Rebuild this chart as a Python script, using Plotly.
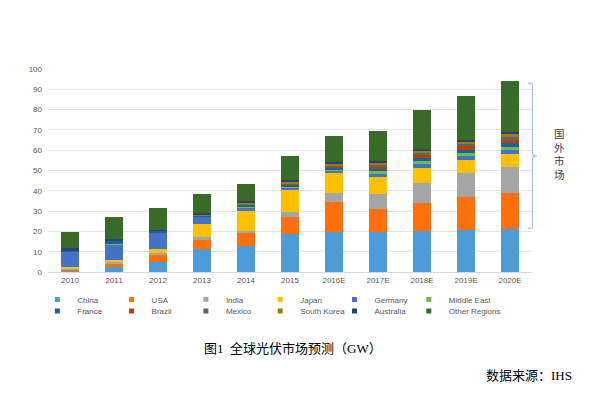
import plotly.graph_objects as go

years = ["2010", "2011", "2012", "2013", "2014", "2015", "2016E", "2017E", "2018E", "2019E", "2020E"]

china        = [0.5, 2.5, 4.9, 11.1, 12.9, 18.8, 19.5, 19.8, 20.1, 20.9, 21.1]
usa          = [0.9, 1.9, 3.5, 4.9, 6.2, 8.1, 15.1, 11.2, 13.7, 16.2, 17.6]
india        = [0.1, 0.3, 1.0, 1.2, 1.0, 2.7, 4.4, 7.4, 9.9, 11.5, 13.2]
japan        = [1.0, 1.3, 2.0, 6.6, 9.9, 10.7, 9.6, 8.5, 7.4, 6.5, 6.1]
germany      = [7.4, 7.5, 7.9, 3.3, 1.9, 1.4, 1.0, 1.5, 2.1, 2.0, 2.0]
middle_east  = [0.0, 0.1, 0.2, 0.3, 0.4, 0.6, 1.0, 1.5, 1.5, 1.5, 1.6]
france       = [0.7, 1.7, 0.8, 0.6, 0.9, 0.9, 0.9, 1.0, 1.5, 1.7, 1.8]
brazil       = [0.0, 0.0, 0.0, 0.0, 0.1, 0.2, 0.6, 1.0, 1.3, 1.6, 1.8]
mexico       = [0.0, 0.0, 0.0, 0.0, 0.1, 0.2, 0.6, 1.0, 1.2, 1.2, 1.4]
south_korea  = [0.2, 0.1, 0.1, 0.4, 0.9, 0.9, 0.8, 0.9, 1.0, 1.0, 1.3]
australia    = [0.8, 0.8, 0.5, 0.8, 0.9, 0.8, 0.7, 0.9, 0.8, 0.9, 1.0]
other        = [8.2, 11.0, 10.4, 9.4, 8.3, 11.9, 12.8, 14.8, 19.5, 21.8, 25.0]

series_names = ["China", "USA", "India", "Japan", "Germany", "Middle East",
                "France", "Brazil", "Mexico", "South Korea", "Australia", "Other Regions"]
series_values = [china, usa, india, japan, germany, middle_east,
                 france, brazil, mexico, south_korea, australia, other]
colors = ["#4E9BDA", "#FF700D", "#A5A5A5", "#FFC000", "#4472C4", "#6ABD45",
          "#1F5F9E", "#B0420E", "#636363", "#9E7A00", "#264478", "#386B28"]

y_ticks = list(range(0, 101, 10))

fig = go.Figure()
for name, vals, col in zip(series_names, series_values, colors):
    fig.add_trace(go.Bar(x=years, y=vals, name=name, marker=dict(color=col, line=dict(width=0)),
                         showlegend=False))

# plot area in pixels: x 48..532, y 69.3..271.7
L, R, T, B = 48, 532, 69.3, 271.7
def px(x):
    return (x - L) / (R - L)
def py(y):
    return (B - y) / (B - T)

# one legend per entry, laid out in a 6 x 2 grid
text_x = [77.3, 151.6, 225.9, 300.2, 374.5, 448.8]
row_y = [299, 310.7]
legend_layouts = {}
for i, (name, col) in enumerate(zip(series_names, colors)):
    lid = "legend" if i == 0 else f"legend{i + 1}"
    fig.add_trace(go.Scatter(x=[None], y=[None], mode="markers", name=name,
                             marker=dict(symbol="square", size=5, color=col),
                             legend=lid))
    legend_layouts[lid] = dict(
        x=px(text_x[i % 6] - 40), y=py(row_y[i // 6]), xanchor="left", yanchor="middle",
        orientation="h", bgcolor="rgba(0,0,0,0)", itemwidth=30,
        font=dict(family="Liberation Sans, Arial", size=8, color="#595959"))

# brace
xt, xm, xe = px(528), px(532.5), px(537)
yt, yb, ymid = py(83.3), py(228.3), py(156)
d = py(0) - py(6)
path = (f"M {xt},{yt} C {xm},{yt} {xm},{yt} {xm},{yt-d} "
        f"L {xm},{ymid+d} C {xm},{ymid} {xm},{ymid} {xe},{ymid} "
        f"C {xm},{ymid} {xm},{ymid} {xm},{ymid-d} "
        f"L {xm},{yb+d} C {xm},{yb} {xm},{yb} {xt},{yb}")

fig.update_layout(
    width=600, height=395,
    margin=dict(l=L, r=600 - R, t=T, b=395 - B, autoexpand=False),
    paper_bgcolor="white", plot_bgcolor="white",
    barmode="stack", bargap=0.61,
    font=dict(family="Liberation Sans, Arial", size=8, color="#595959"),
    xaxis=dict(showgrid=False, showline=True, linecolor="#D9D9D9", linewidth=1,
               tickfont=dict(size=8, color="#595959"), ticks=""),
    yaxis=dict(range=[0, 100], tickvals=y_ticks, showgrid=True, gridcolor="#E3E3E3", gridwidth=1,
               zeroline=False, tickfont=dict(size=8, color="#595959"), ticklabelstandoff=5),
    shapes=[dict(type="path", xref="paper", yref="paper", path=path,
                 line=dict(color="#9DC3E6", width=1.2))],
    annotations=[
        dict(text="国<br>外<br>市<br>场", xref="paper", yref="paper", x=px(559), y=py(154),
             showarrow=False, font=dict(family="Noto Sans CJK SC", size=10.5, color="#404040"),
             xanchor="center", yanchor="middle"),
        dict(text="图1  全球光伏市场预测（GW）", xref="paper", yref="paper", x=px(292.5), y=py(348.3),
             showarrow=False, font=dict(family="Liberation Serif, Noto Sans CJK SC", size=13, color="#000000"),
             xanchor="center", yanchor="middle"),
        dict(text="数据来源：IHS", xref="paper", yref="paper", x=px(573.5), y=py(375),
             showarrow=False, font=dict(family="Liberation Serif, Noto Sans CJK SC", size=13, color="#000000"),
             xanchor="right", yanchor="middle"),
    ],
    **legend_layouts,
)

fig.write_html("out.html", config={"displayModeBar": False},
               post_script="document.body.style.margin='0';document.body.style.overflow='hidden';")
